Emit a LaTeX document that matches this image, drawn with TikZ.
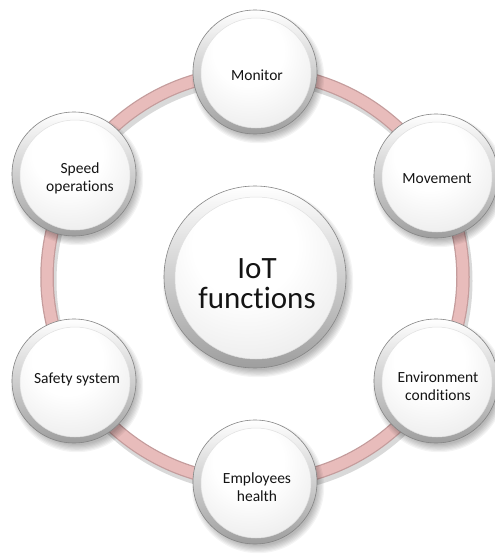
\documentclass[tikz,border=0pt]{standalone}
\usepackage{fontspec}
\setmainfont{Carlito}[Ligatures={NoCommon,NoRequired,NoContextual}]
\usetikzlibrary{calc}
\definecolor{pinkfill}{RGB}{232,188,187}
\definecolor{pinkedge}{RGB}{196,156,156}
\definecolor{txt}{RGB}{20,20,20}
\pgfdeclareradialshading{discshade}{\pgfpoint{-4bp}{12bp}}{color(0bp)=(white); color(16bp)=(white); color(40bp)=(black!9); color(50bp)=(black!18); color(100bp)=(black!18)}
\newcommand\mybubble[3]{%
  \foreach \k in {0,...,6} {\pgfmathsetmacro\rr{#2-3+\k*1.2}
    \fill[black,opacity=0.045] ($(#1)+(3,5)$) circle (\rr pt);}
  \shade[top color=white, bottom color=black!38, draw=black!48, line width=0.6pt] (#1) circle (#2pt);
  \shade[shading=discshade, draw=black!12, line width=0.5pt] ($(#1)+(1,1)$) circle (#3pt);
}
\tikzset{
  small/.style={font=\fontsize{15.5}{18}\selectfont, align=center, text=txt},
  big/.style={font=\fontsize{31}{30}\selectfont, align=center, text=txt}
}
\begin{document}
\begin{tikzpicture}[x=1pt,y=-1pt]
\useasboundingbox (0,0) rectangle (495,554);
\fill[white] (0,0) rectangle (495,554);
\coordinate (C) at (255,277);
\coordinate (pM) at (255,72);
\coordinate (pMv) at (436,176);
\coordinate (pE) at (436,381);
\coordinate (pH) at (255,482);
\coordinate (pS) at (74,381);
\coordinate (pO) at (74,174);
% ring
\draw[black,opacity=0.15,line width=15pt] ($(C)+(2,4)$) ellipse [x radius=208pt, y radius=205pt];
\draw[pinkedge,line width=13.5pt] (C) ellipse [x radius=208pt, y radius=205pt];
\draw[pinkfill,line width=11pt] (C) ellipse [x radius=208pt, y radius=205pt];
% bubbles
\mybubble{pM}{62}{55}
\mybubble{pMv}{62}{55}
\mybubble{pE}{62}{55}
\mybubble{pH}{62}{55}
\mybubble{pS}{62}{55}
\mybubble{pO}{62}{55}
\mybubble{C}{91}{81}
% texts
\node[small] (monitor) at ($(pM)+(2,3)$) {Monitor};
\node[small] (movement) at ($(pMv)+(1,3)$) {Movement};
\node[small] (environment) at ($(pE)+(2,5)$) {Environment\\conditions};
\node[small] (health) at ($(pH)+(2,5)$) {Employees\\health};
\node[small] (safety) at ($(pS)+(3,-2)$) {Safety system};
\node[small] (speed) at ($(pO)+(6,4)$) {Speed\\operations};
\node[big] (iot) at ($(C)+(2,7)$) {IoT\\functions};
\end{tikzpicture}
\end{document}
